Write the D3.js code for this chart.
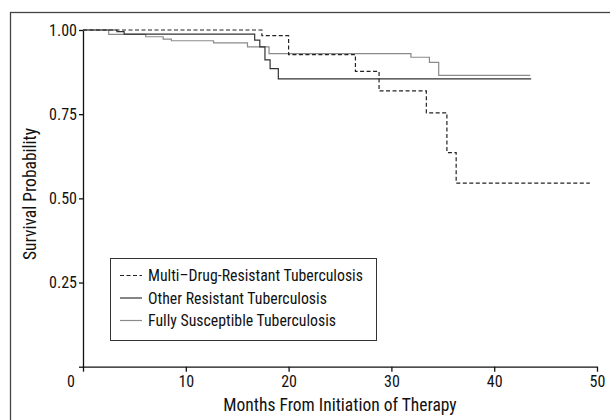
<!DOCTYPE html>
<html>
<head>
<meta charset="utf-8">
<script src="https://cdn.jsdelivr.net/npm/d3@7"></script>
<style>
  body { margin: 0; background: #fff; }
  svg text { font-family: "Liberation Sans Narrow", "Roboto Condensed", "Liberation Sans", sans-serif; fill: #111; }
</style>
</head>
<body>
<div id="graphicContainer"></div>
<script>

// Kaplan-Meier steps
const mdrTimes = [0, 17.4, 20.0, 26.5, 28.8, 33.4, 35.4, 36.3, 49.3]
const mdrSurv = [1, 0.983, 0.927, 0.877, 0.819, 0.754, 0.636, 0.545, 0.545]

const otherTimes = [0, 3.3, 4.0, 16.7, 17.2, 17.7, 18.2, 19.0, 43.6]
const otherSurv = [1, 0.995, 0.988, 0.970, 0.950, 0.911, 0.885, 0.855, 0.855]

const fullTimes = [0, 2.5, 6.1, 7.8, 8.6, 12.7, 16.0, 18.1, 31.9, 33.7, 34.6, 43.5]
const fullSurv = [1, 0.987, 0.980, 0.973, 0.968, 0.962, 0.950, 0.930, 0.919, 0.904, 0.865, 0.865]

const seriesNames = ["Multi\u2013Drug-Resistant Tuberculosis", "Other Resistant Tuberculosis", "Fully Susceptible Tuberculosis"]

const xTicks = [0, 10, 20, 30, 40, 50]
const yTicks = [0, 0.25, 0.5, 0.75, 1]

const width = 610
const height = 420
const marginleft = 83
const marginright = 13
const margintop = 30
const marginbottom = 53.3

const svg = d3.select("#graphicContainer").append("svg")
  .attr("width", width)
  .attr("height", height)

// outer frame, only top and left edges show
svg.append("rect")
  .attr("x", 10.5)
  .attr("y", 12.5)
  .attr("width", width + 20)
  .attr("height", height + 20)
  .attr("fill", "none")
  .attr("stroke", "#444")
  .attr("stroke-width", 1.3)

const x = d3.scaleLinear()
  .domain([0, 50])
  .range([marginleft, width - marginright])

const y = d3.scaleLinear()
  .domain([0, 1])
  .range([height - marginbottom, margintop])

const xAxis = g => g
  .attr("transform", `translate(0,${y(0)})`)
  .call(d3.axisBottom(x)
    .tickValues(xTicks)
    .tickFormat(d => d == 0 ? "" : d)
    .tickSize(5)
    .tickSizeOuter(0)
    .tickPadding(4))

const yAxis = g => g
  .attr("transform", `translate(${marginleft},0)`)
  .call(d3.axisLeft(y)
    .tickValues(yTicks)
    .tickFormat(d => d == 0 ? "" : d3.format(".2f")(d))
    .tickSize(4)
    .tickSizeOuter(0)
    .tickPadding(2))

svg.append("g").call(xAxis)
svg.append("g").call(yAxis)

svg.selectAll(".tick text").attr("font-size", 16).attr("fill", "#111")
svg.selectAll(".domain, .tick line").attr("stroke", "#111").attr("stroke-width", 1.3)

// the lone "0" sits off to the lower left
svg.append("text")
  .attr("x", x(0) - 12)
  .attr("y", y(0) + 4 + 5)
  .attr("dy", "0.71em")
  .attr("text-anchor", "middle")
  .attr("font-size", 16)
  .text("0")

const series = [
  { name: seriesNames[0], times: mdrTimes, surv: mdrSurv, color: "#222", dash: "4,2.5", w: 1.2 },
  { name: seriesNames[1], times: otherTimes, surv: otherSurv, color: "#333", dash: null, w: 1.2 },
  { name: seriesNames[2], times: fullTimes, surv: fullSurv, color: "#8a8a8a", dash: null, w: 1.2 }
]

const line = d3.line()
  .x(d => x(d[0]))
  .y(d => y(d[1]))
  .curve(d3.curveStepAfter)

svg.append("g")
  .selectAll("path")
  .data(series.slice().reverse())
  .enter()
  .append("path")
  .attr("d", d => line(d.times.map((t, i) => [t, d.surv[i]])))
  .attr("fill", "none")
  .attr("stroke", d => d.color)
  .attr("stroke-width", d => d.w)
  .attr("stroke-dasharray", d => d.dash)

// legend
const legend = svg.append("g")

legend.append("rect")
  .attr("x", 110.5)
  .attr("y", 258.5)
  .attr("width", 266)
  .attr("height", 82)
  .attr("fill", "#fff")
  .attr("stroke", "#333")
  .attr("stroke-width", 1)

const rows = legend.selectAll("g.row")
  .data(series)
  .enter()
  .append("g")
  .attr("class", "row")
  .attr("transform", (d, i) => `translate(120,${275.5 + i * 22.5})`)

rows.append("line")
  .attr("x1", 0)
  .attr("x2", 22)
  .attr("stroke", d => d.color)
  .attr("stroke-width", d => d.w)
  .attr("stroke-dasharray", d => d.dash)

rows.append("text")
  .attr("x", 28)
  .attr("y", 5.5)
  .attr("font-size", 15.8)
  .text(d => d.name)

// axis titles
svg.append("text")
  .attr("x", 340)
  .attr("y", 411)
  .attr("text-anchor", "middle")
  .attr("font-size", 17.5)
  .text("Months From Initiation of Therapy")

svg.append("text")
  .attr("transform", "translate(36,194) rotate(-90)")
  .attr("text-anchor", "middle")
  .attr("font-size", 17.5)
  .text("Survival Probability")

</script>
</body>
</html>
